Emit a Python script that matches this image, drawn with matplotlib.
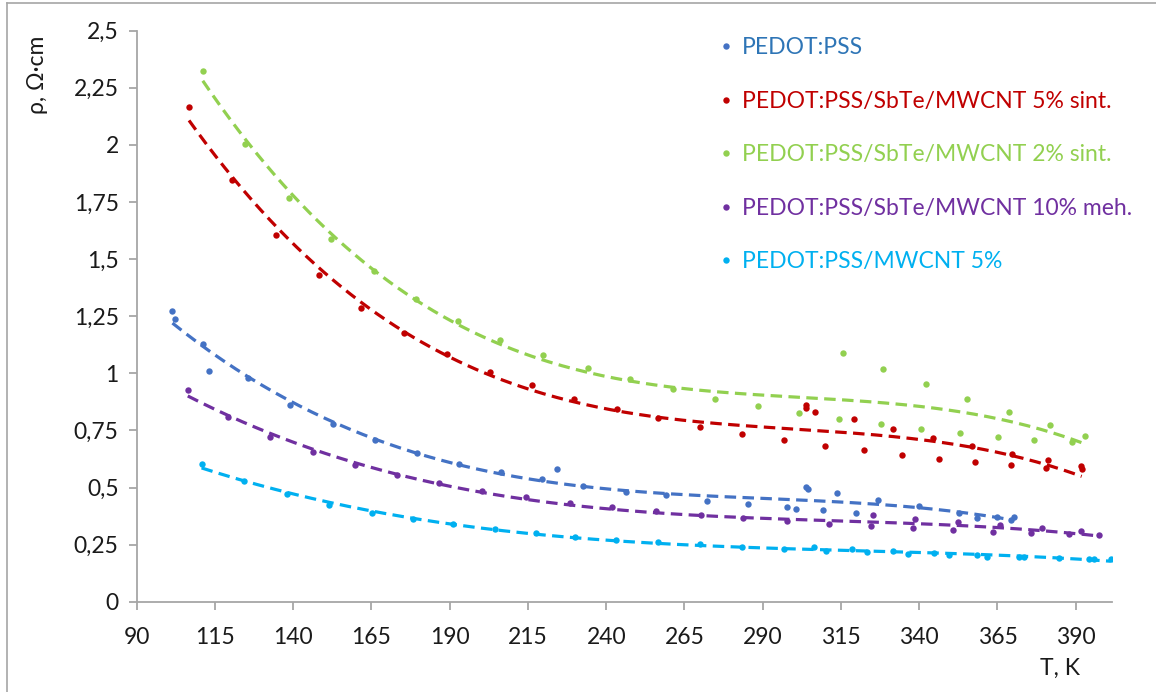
import numpy as np
import matplotlib
matplotlib.use("Agg")
import matplotlib.pyplot as plt
from matplotlib.lines import Line2D
from matplotlib.ticker import FuncFormatter, MultipleLocator, FixedLocator

plt.rcParams["font.family"] = ["Lato", "DejaVu Sans"]

# PEDOT:PSS
t_pss = [101.4, 102.2, 111.3, 113.0, 125.4, 139.0, 152.8, 166.1, 179.6, 193.0,
         206.3, 219.5, 224.2, 232.6, 246.2, 259.0, 272.1, 285.2, 297.7, 300.7,
         303.9, 304.4, 309.2, 313.6, 319.8, 326.7, 339.8, 352.6, 358.6, 364.7,
         369.3, 370.3]
r_pss = [1.271, 1.238, 1.127, 1.011, 0.978, 0.863, 0.779, 0.708, 0.652, 0.603,
         0.567, 0.536, 0.581, 0.507, 0.482, 0.466, 0.442, 0.428, 0.413, 0.407,
         0.504, 0.492, 0.400, 0.474, 0.390, 0.444, 0.418, 0.390, 0.365, 0.372,
         0.358, 0.372]

# PEDOT:PSS/SbTe/MWCNT 5% sint.
t_s5 = [106.7, 120.5, 134.4, 148.1, 161.8, 175.4, 189.1, 202.8, 216.3, 229.6,
        243.4, 256.6, 270.0, 283.4, 296.7, 303.9, 303.9, 306.8, 309.8, 319.0,
        322.4, 331.7, 334.5, 344.3, 346.2, 357.0, 357.9, 369.5, 369.4, 381.0,
        380.4, 391.6, 391.9]
r_s5 = [2.167, 1.846, 1.607, 1.429, 1.287, 1.178, 1.083, 1.007, 0.947, 0.889,
        0.844, 0.806, 0.766, 0.736, 0.708, 0.861, 0.846, 0.831, 0.682, 0.798,
        0.663, 0.758, 0.644, 0.718, 0.626, 0.682, 0.610, 0.648, 0.598, 0.620,
        0.585, 0.594, 0.580]

# PEDOT:PSS/SbTe/MWCNT 2% sint.
t_s2 = [111.1, 124.6, 138.6, 152.0, 165.8, 179.2, 192.6, 206.0, 219.7, 234.1,
        247.5, 261.3, 274.6, 288.4, 301.5, 315.5, 314.5, 328.5, 327.8, 342.2,
        340.6, 355.4, 353.0, 368.7, 365.1, 381.7, 376.7, 388.8, 393.0]
r_s2 = [2.324, 2.003, 1.767, 1.587, 1.448, 1.327, 1.229, 1.146, 1.080, 1.022,
        0.974, 0.930, 0.889, 0.857, 0.828, 1.090, 0.800, 1.019, 0.777, 0.952,
        0.758, 0.889, 0.737, 0.829, 0.723, 0.774, 0.708, 0.701, 0.726]

# PEDOT:PSS/SbTe/MWCNT 10% meh.
t_m10 = [106.3, 119.1, 132.6, 146.2, 159.7, 173.2, 186.6, 200.3, 214.3, 228.3,
         241.9, 255.9, 270.3, 283.6, 297.7, 311.1, 325.1, 324.6, 338.6, 337.9,
         352.4, 350.9, 365.8, 363.6, 379.2, 375.7, 391.6, 387.7, 397.5]
r_m10 = [0.926, 0.810, 0.721, 0.655, 0.598, 0.553, 0.518, 0.485, 0.457, 0.431,
         0.415, 0.396, 0.380, 0.366, 0.353, 0.342, 0.380, 0.331, 0.362, 0.321,
         0.349, 0.314, 0.334, 0.306, 0.323, 0.299, 0.308, 0.296, 0.292]

# PEDOT:PSS/MWCNT 5%
t_c5 = [110.7, 124.3, 138.1, 151.4, 165.1, 178.1, 191.1, 204.4, 217.4, 230.1,
        243.2, 256.6, 270.0, 283.4, 296.9, 306.5, 310.2, 318.4, 323.2, 331.5,
        336.5, 344.8, 349.4, 358.4, 361.8, 371.9, 373.5, 384.7, 394.3, 395.9,
        401.2]
r_c5 = [0.601, 0.527, 0.471, 0.425, 0.390, 0.361, 0.339, 0.317, 0.299, 0.283,
        0.270, 0.260, 0.253, 0.240, 0.231, 0.241, 0.223, 0.231, 0.216, 0.221,
        0.210, 0.212, 0.204, 0.204, 0.197, 0.197, 0.194, 0.190, 0.187, 0.187,
        0.186]

x_ticks = [90, 115, 140, 165, 190, 215, 240, 265, 290, 315, 340, 365, 390]

series = [
    ("PEDOT:PSS", t_pss, r_pss, "#4472C4", "#2E75B6"),
    ("PEDOT:PSS/SbTe/MWCNT 5% sint.", t_s5, r_s5, "#C00000", "#C00000"),
    ("PEDOT:PSS/SbTe/MWCNT 2% sint.", t_s2, r_s2, "#92D050", "#92D050"),
    ("PEDOT:PSS/SbTe/MWCNT 10% meh.", t_m10, r_m10, "#7030A0", "#7030A0"),
    ("PEDOT:PSS/MWCNT 5%", t_c5, r_c5, "#00B0F0", "#00B0F0"),
]

fig = plt.figure(figsize=(11.56, 6.92), dpi=100)
ax = fig.add_axes([0.1183, 0.1305, 0.8434, 0.8251])

for name, t, r, col, _ in series:
    t = np.asarray(t)
    r = np.asarray(r)
    ax.plot(t, r, "o", color=col, markersize=4.6, markeredgewidth=0, zorder=2)
    # polynomial trendline, like the spreadsheet one
    coef = np.polyfit(t, r, 3)
    tt = np.linspace(t.min(), t.max(), 200)
    ax.plot(tt, np.polyval(coef, tt), color=col, lw=2.3,
            dashes=(3.6, 2.0), zorder=3)

ax.set_xlim(90, 401.5)
ax.set_ylim(0, 2.5)
ax.xaxis.set_major_locator(FixedLocator(x_ticks))
ax.yaxis.set_major_locator(MultipleLocator(0.25))
ax.yaxis.set_major_formatter(FuncFormatter(lambda v, p: f"{v:g}".replace(".", ",")))

for s in ["top", "right"]:
    ax.spines[s].set_visible(False)
for s in ["left", "bottom"]:
    ax.spines[s].set_color("#A6A6A6")
    ax.spines[s].set_linewidth(1.3)
ax.tick_params(direction="out", length=6, width=1.3, color="#A6A6A6",
               labelsize=16.5, labelcolor="#1a1a1a", pad=7)
ax.tick_params(axis="x", pad=12)

fig.text(38 / 1156, 1 - 75 / 692, "ρ, Ω·cm", rotation=90, ha="center",
         va="center", fontsize=16.5, color="#1a1a1a")
fig.text(1060 / 1156, 1 - 668 / 692, "T, K", ha="center", va="center",
         fontsize=16.5, color="#1a1a1a")

# legend: dot marker + text in series colour
handles = [Line2D([], [], ls="none", marker="o", color=c, markersize=4.6,
                  markeredgewidth=0) for _, _, _, c, _ in series]
leg = ax.legend(handles, [s[0] for s in series], loc="upper left",
                bbox_to_anchor=(0.577, 1.025), frameon=False, fontsize=16.5,
                handlelength=0.5, handletextpad=0.45, labelspacing=1.42)
for txt, s in zip(leg.get_texts(), series):
    txt.set_color(s[4])

# chart area border (only top and left visible in the crop)
fig.add_artist(Line2D([7 / 1156, 7 / 1156], [0, 1 - 3 / 692],
                      transform=fig.transFigure, color="#A6A6A6", lw=1.2))
fig.add_artist(Line2D([7 / 1156, 1], [1 - 3 / 692, 1 - 3 / 692],
                      transform=fig.transFigure, color="#A6A6A6", lw=1.2))

fig.savefig("out.png", dpi=100)
